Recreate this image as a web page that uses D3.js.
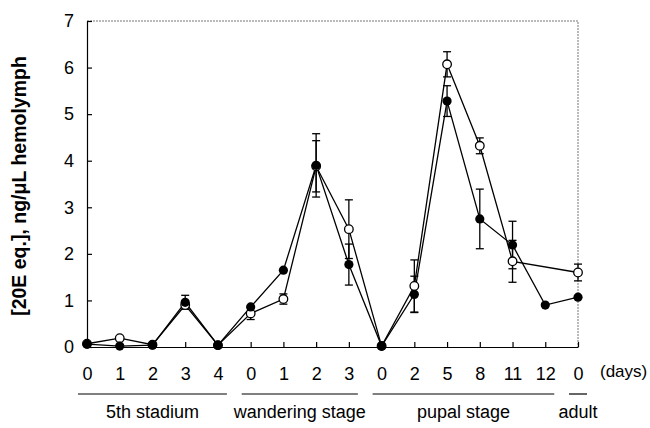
<!DOCTYPE html>
<html>
<head>
<meta charset="utf-8">
<script src="https://cdn.jsdelivr.net/npm/d3@7"></script>
<style>
  body { margin: 0; background: #fff; }
  svg text { font-family: "Liberation Sans", Arial, sans-serif; fill: #000; }
</style>
</head>
<body>
<div id="chart"></div>
<script>
// x categories (days within each stage)
var dayLabels = ["0", "1", "2", "3", "4", "0", "1", "2", "3", "0", "2", "5", "8", "11", "12", "0"];
// closed circles
var filledVals = [0.06, 0.02, 0.04, 0.96, 0.04, 0.86, 1.65, 3.9, 1.77, 0.02, 1.13, 5.28, 2.75, 2.19, 0.9, 1.07];
var filledErr  = [0, 0, 0, 0.15, 0, 0, 0, 0.68, 0.44, 0, 0.39, 0.33, 0.64, 0.51, 0, 0];
// open circles (no sample at pupal day 12)
var openVals = [0.07, 0.19, 0.05, 0.9, 0.04, 0.72, 1.03, 3.88, 2.53, 0.02, 1.31, 6.07, 4.32, 1.84, null, 1.6];
var openErr  = [0, 0, 0, 0, 0, 0.13, 0.11, 0.55, 0.63, 0, 0.56, 0.27, 0.17, 0.45, null, 0.18];
// stage groups: first and last category index
var stages = [
  { name: "5th stadium", from: 0, to: 4 },
  { name: "wandering stage", from: 5, to: 8 },
  { name: "pupal stage", from: 9, to: 14 },
  { name: "adult", from: 15, to: 15 }
];
var yTicks = [0, 1, 2, 3, 4, 5, 6, 7];

var width = 650, height = 428;
var margin = { top: 21, right: 72, bottom: 81, left: 87 };
var w = width - margin.left - margin.right,
    h = height - margin.top - margin.bottom;

var svg = d3.select("#chart").append("svg")
    .attr("width", width)
    .attr("height", height);
var g = svg.append("g")
    .attr("transform", "translate(" + margin.left + "," + margin.top + ")");

var x = d3.scalePoint()
    .domain(d3.range(dayLabels.length))
    .range([0, w]);
var y = d3.scaleLinear()
    .domain([0, 7])
    .range([h, 0]);

// dotted frame on top and right
g.append("path")
    .attr("d", "M0,0H" + w + "V" + h)
    .attr("fill", "none")
    .attr("stroke", "#777")
    .attr("stroke-dasharray", "2,1");

var yAxis = d3.axisLeft(y)
    .tickValues(yTicks)
    .tickFormat(d3.format("d"))
    .tickSizeInner(-5)
    .tickSizeOuter(0)
    .tickPadding(13);
var xAxis = d3.axisBottom(x)
    .tickFormat(function(i) { return dayLabels[i]; })
    .tickSizeInner(-5)
    .tickSizeOuter(0)
    .tickPadding(20);

g.append("g").attr("class", "axis").call(yAxis)
    .selectAll("text").style("font-size", "18px");
g.append("g").attr("class", "axis")
    .attr("transform", "translate(0," + h + ")")
    .call(xAxis)
    .selectAll("text").style("font-size", "18px");
g.selectAll(".axis path, .axis line").attr("stroke", "#000").attr("stroke-width", 1.2);

svg.append("text")
    .attr("transform", "translate(26,186) rotate(-90)")
    .style("text-anchor", "middle")
    .style("font-size", "19.5px")
    .style("font-weight", "bold")
    .text("[20E eq.], ng/\u03bcL hemolymph");

svg.append("text")
    .attr("x", 600)
    .attr("y", 377)
    .style("font-size", "17px")
    .text("(days)");

// stage brackets
var stageG = g.selectAll(".stage").data(stages).enter().append("g");
stageG.append("line")
    .attr("x1", function(d) { return x(d.from) - 9; })
    .attr("x2", function(d) { return x(d.to) + 9; })
    .attr("y1", h + 47)
    .attr("y2", h + 47)
    .attr("stroke", "#000")
    .attr("stroke-width", 1.2);
stageG.append("text")
    .attr("x", function(d) { return (x(d.from) + x(d.to)) / 2; })
    .attr("y", h + 71)
    .style("text-anchor", "middle")
    .style("font-size", "18px")
    .text(function(d) { return d.name; });

function series(vals, errs) {
  var pts = [];
  vals.forEach(function(v, i) {
    if (v != null) pts.push({ i: i, v: v, e: errs[i] });
  });
  return pts;
}
var openPts = series(openVals, openErr);
var filledPts = series(filledVals, filledErr);

var line = d3.line()
    .x(function(d) { return x(d.i); })
    .y(function(d) { return y(d.v); });

[openPts, filledPts].forEach(function(pts) {
  g.append("path")
      .datum(pts)
      .attr("d", line)
      .attr("fill", "none")
      .attr("stroke", "#000")
      .attr("stroke-width", 1.3);
  var eb = g.selectAll(null)
      .data(pts.filter(function(d) { return d.e > 0; }))
      .enter().append("g")
      .attr("stroke", "#000")
      .attr("stroke-width", 1.3);
  eb.append("line")
      .attr("x1", function(d) { return x(d.i); })
      .attr("x2", function(d) { return x(d.i); })
      .attr("y1", function(d) { return y(d.v - d.e); })
      .attr("y2", function(d) { return y(d.v + d.e); });
  [-1, 1].forEach(function(s) {
    eb.append("line")
        .attr("x1", function(d) { return x(d.i) - 4; })
        .attr("x2", function(d) { return x(d.i) + 4; })
        .attr("y1", function(d) { return y(d.v + s * d.e); })
        .attr("y2", function(d) { return y(d.v + s * d.e); });
  });
});

g.selectAll(".open")
    .data(openPts)
    .enter().append("circle")
    .attr("cx", function(d) { return x(d.i); })
    .attr("cy", function(d) { return y(d.v); })
    .attr("r", 4.3)
    .attr("fill", "#fff")
    .attr("stroke", "#000")
    .attr("stroke-width", 1.3);
g.selectAll(".filled")
    .data(filledPts)
    .enter().append("circle")
    .attr("cx", function(d) { return x(d.i); })
    .attr("cy", function(d) { return y(d.v); })
    .attr("r", 4.6)
    .attr("fill", "#000");
</script>
</body>
</html>
